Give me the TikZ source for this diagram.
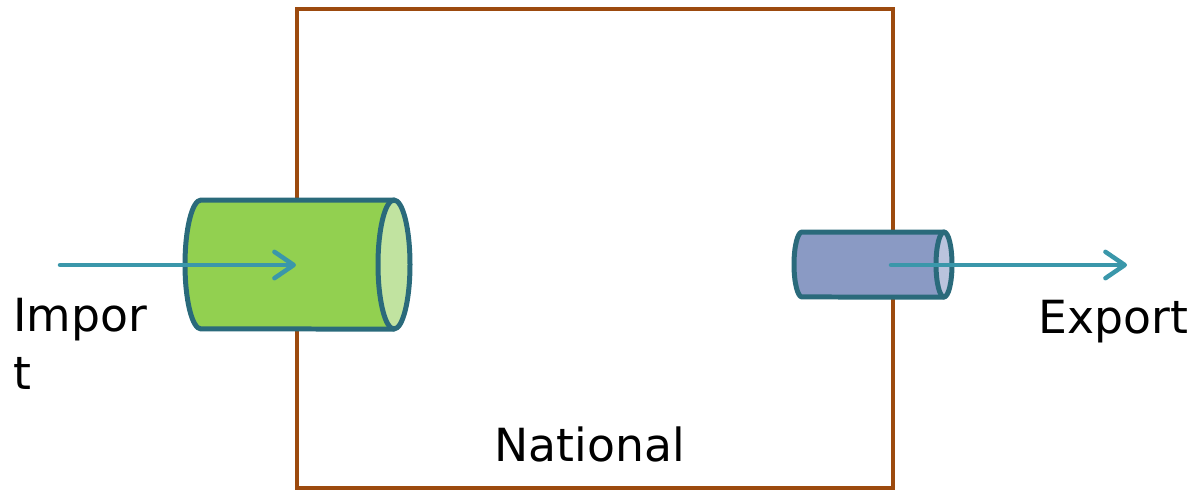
\documentclass[tikz,border=0pt]{standalone}
\usepackage{fontspec}
\setmainfont{DejaVu Sans}
\usepackage{xcolor}
\usetikzlibrary{arrows.meta, positioning}

\definecolor{marron}{HTML}{9C4A0E}
\definecolor{borde}{HTML}{2A6A7B}
\definecolor{verde}{HTML}{92D050}
\definecolor{verdeclaro}{HTML}{C1E3A0}
\definecolor{azul}{HTML}{8A9AC4}
\definecolor{azulclaro}{HTML}{BAC3DD}
\definecolor{flujo}{HTML}{3A97AA}

\begin{document}
\begin{tikzpicture}[x=0.02cm, y=-0.02cm,
  caja/.style={draw=marron, line width=0.085cm, minimum width=11.92cm, minimum height=9.58cm, inner sep=0pt},
  tubo/.style={draw=borde, line width=0.1cm, line join=round},
  flecha/.style={draw=flujo, line width=0.09cm, line cap=round, -{Straight Barb[length=11pt, width=15pt, round]}},
  etiqueta/.style={font=\fontsize{26}{32.5}\selectfont, inner sep=0pt}]
\useasboundingbox (0,0) rectangle (1199,491);

% Caja
\node[caja] (nacional) at (595,248.5) {};

% Cilindros
\draw[tubo, fill=verde] (394,200) -- (201,200)
  arc[start angle=90, end angle=270, x radius=0.32cm, y radius=1.29cm] -- (394,329) -- cycle;
\draw[tubo, fill=verdeclaro] (394,264.5) ellipse[x radius=0.32cm, y radius=1.29cm];
\draw[tubo, fill=azul] (944,232) -- (802,232)
  arc[start angle=90, end angle=270, x radius=0.16cm, y radius=0.65cm] -- (944,297) -- cycle;
\draw[tubo, fill=azulclaro] (944,264.5) ellipse[x radius=0.16cm, y radius=0.65cm];

% Flechas
\coordinate (entrada) at (60,265);
\coordinate (dentro) at (296,265);
\coordinate (salida) at (891,265);
\coordinate (fuera) at (1127,265);
\draw[flecha] (entrada) -- (dentro);
\draw[flecha] (salida) -- (fuera);

% Textos
\node[etiqueta, anchor=base west, align=left] (import) at (13,389) {Impor\\t};
\node[etiqueta, anchor=base west] (export) at (1038,333) {Export};
\node[etiqueta, anchor=base west] (national) at (494,461) {National};
\end{tikzpicture}
\end{document}
